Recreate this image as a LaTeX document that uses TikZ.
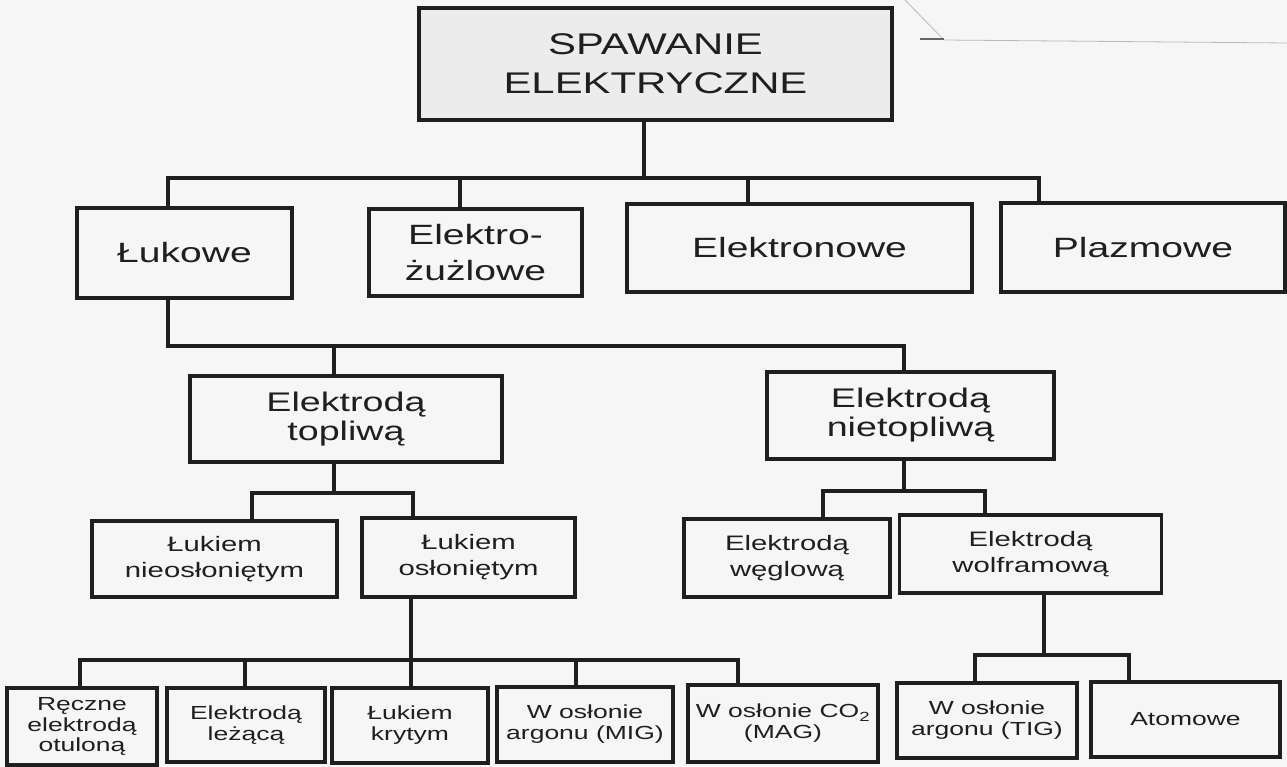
\documentclass[tikz,border=0pt]{standalone}
\usepackage{fontspec}
\setmainfont{Liberation Sans}
\newfontfamily\wide[FakeStretch=1.4]{Liberation Sans}
\definecolor{bg}{gray}{0.965}
\definecolor{ink}{gray}{0.12}
\begin{document}
\begin{tikzpicture}[x=1bp,y=-1bp]
\tikzset{
  box/.style={draw=ink, line width=3.6bp, fill=bg, inner sep=1pt, align=center, text=ink},
  ln/.style={draw=ink, line width=3.4bp, line cap=rect, line join=miter},
  fA/.style={font=\wide\fontsize{30}{40}\selectfont},
  fB/.style={font=\wide\fontsize{28}{36}\selectfont},
  fC/.style={font=\wide\fontsize{27}{29}\selectfont},
  fD/.style={font=\wide\fontsize{21}{26}\selectfont},
  fE/.style={font=\wide\fontsize{19}{21}\selectfont},
}
\fill[bg] (0,0) rectangle (1287,767);
\useasboundingbox (0,0) rectangle (1287,767);
% scan artefact top right
\draw[gray!55, line width=0.8bp] (905,0) -- (944,40) -- (1287,43);
\draw[gray!80!black, line width=1.2bp] (920,39) -- (944,39);

% nodes
\node[box, fA, fill=gray!15, minimum width=473bp, minimum height=112bp] (top) at (655.5,64) {SPAWANIE\\[-1bp]ELEKTRYCZNE};

\node[box, fB, minimum width=215bp, minimum height=90bp] (luk) at (184.5,253) {Łukowe};
\node[box, fB, minimum width=213bp, minimum height=87bp] (ezu) at (475.5,252.5) {Elektro-\\żużlowe};
\node[box, fB, minimum width=345bp, minimum height=88bp] (eon) at (799.5,248) {Elektronowe};
\node[box, fB, minimum width=284bp, minimum height=89bp] (plz) at (1143,247.5) {Plazmowe};

\node[box, fC, minimum width=312bp, minimum height=86bp] (etop) at (346,419) {Elektrodą\\topliwą};
\node[box, fC, minimum width=287bp, minimum height=87bp] (enie) at (910.5,415.5) {Elektrodą\\nietopliwą};

\node[box, fD, minimum width=245bp, minimum height=76bp] (nos) at (214.5,559) {Łukiem\\nieosłoniętym};
\node[box, fD, minimum width=213bp, minimum height=79bp] (os) at (468.5,557.5) {Łukiem\\osłoniętym};
\node[box, fD, minimum width=206bp, minimum height=78bp] (weg) at (787,558) {Elektrodą\\węglową};
\node[box, fD, minimum width=262bp, minimum height=78bp] (wol) at (1030.5,554) {Elektrodą\\wolframową};

\node[box, fE, minimum width=150bp, minimum height=77bp] (rec) at (82,726.5) {Ręczne\\elektrodą\\otuloną};
\node[box, fE, minimum width=158bp, minimum height=74bp] (lez) at (246,725) {Elektrodą\\leżącą};
\node[box, fE, minimum width=156bp, minimum height=75bp] (kry) at (410,725.5) {Łukiem\\krytym};
\node[box, fE, minimum width=176bp, minimum height=75bp] (mig) at (585,724.5) {W osłonie\\argonu (MIG)};
\node[box, fE, minimum width=190bp, minimum height=77bp] (mag) at (783,723.5) {W osłonie CO\textsubscript{2}\\(MAG)};
\node[box, fE, minimum width=180bp, minimum height=75bp] (tig) at (987,720.5) {W osłonie\\argonu (TIG)};
\node[box, fE, minimum width=189bp, minimum height=75bp] (atom) at (1185.5,719.5) {Atomowe};

% level 1
\coordinate (a0) at (644,178);
\coordinate (a1) at (168,178);
\coordinate (a2) at (460,178);
\coordinate (a3) at (748,178);
\coordinate (a4) at (1039,178);
\draw[ln] (top.south -| a0) -- (a0);
\draw[ln] (luk.north -| a1) -- (a1) -- (a4) -- (a4 |- plz.north);
\draw[ln] (a2) -- (a2 |- ezu.north);
\draw[ln] (a3) -- (a3 |- eon.north);

% level 2
\coordinate (b1) at (168,346);
\coordinate (b2) at (334,346);
\coordinate (b3) at (904,346);
\draw[ln] (luk.south -| b1) -- (b1) -- (b3) -- (b3 |- enie.north);
\draw[ln] (b2) -- (b2 |- etop.north);

% level 3 left
\coordinate (c0) at (334,493);
\coordinate (c1) at (252,493);
\coordinate (c2) at (413,493);
\draw[ln] (etop.south -| c0) -- (c0);
\draw[ln] (nos.north -| c1) -- (c1) -- (c2) -- (c2 |- os.north);

% level 3 right
\coordinate (e0) at (904,491);
\coordinate (e1) at (823,491);
\coordinate (e2) at (985,491);
\draw[ln] (enie.south -| e0) -- (e0);
\draw[ln] (weg.north -| e1) -- (e1) -- (e2) -- (e2 |- wol.north);

% level 4 left
\coordinate (f0) at (411,660);
\coordinate (f1) at (80,660);
\coordinate (f2) at (245,660);
\coordinate (f4) at (576,660);
\coordinate (f5) at (738,660);
\draw[ln] (os.south -| f0) -- (f0) -- (f0 |- kry.north);
\draw[ln] (rec.north -| f1) -- (f1) -- (f5) -- (f5 |- mag.north);
\draw[ln] (f2) -- (f2 |- lez.north);
\draw[ln] (f4) -- (f4 |- mig.north);

% level 4 right
\coordinate (g0) at (1044,655);
\coordinate (g1) at (975,655);
\coordinate (g2) at (1129,655);
\draw[ln] (wol.south -| g0) -- (g0);
\draw[ln] (tig.north -| g1) -- (g1) -- (g2) -- (g2 |- atom.north);
\end{tikzpicture}
\end{document}
